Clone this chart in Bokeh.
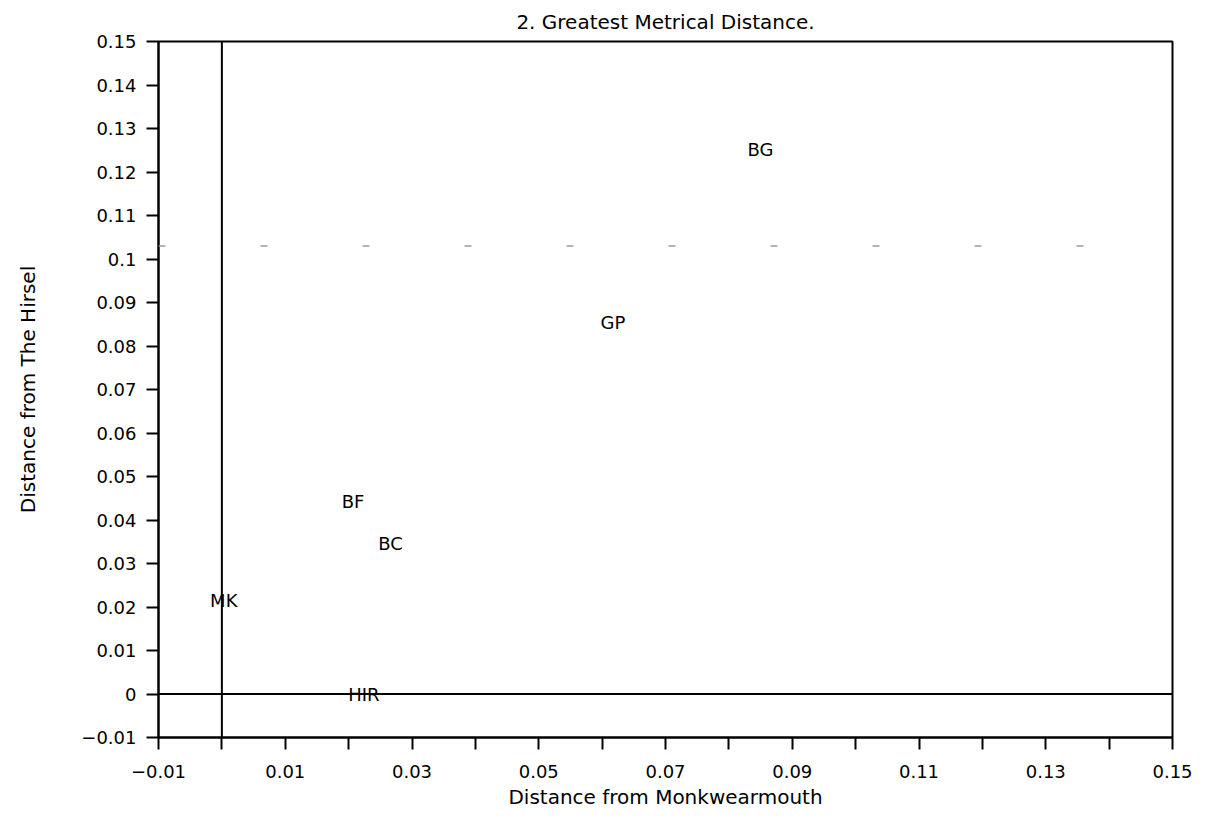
from bokeh.plotting import figure
from bokeh.models import Range1d, FixedTicker, Span, Title, ColumnDataSource
from bokeh.embed import file_html
from bokeh.resources import INLINE
from bokeh.core.properties import value

# ---- data ----
sites = ["BG", "GP", "BF", "BC", "MK", "HIR"]
dist_monkwearmouth = [0.085, 0.0617, 0.0207, 0.0266, 0.0003, 0.0224]
dist_hirsel = [0.1251, 0.0853, 0.0443, 0.0345, 0.0215, 0.0]

x_tick_values = [-0.01, 0.01, 0.03, 0.05, 0.07, 0.09, 0.11, 0.13, 0.15]
x_tick_labels = ["\u22120.01", "0.01", "0.03", "0.05", "0.07", "0.09", "0.11", "0.13", "0.15"]
x_minor_values = [0.0, 0.02, 0.04, 0.06, 0.08, 0.1, 0.12, 0.14]

y_tick_values = [-0.01, 0.0, 0.01, 0.02, 0.03, 0.04, 0.05, 0.06, 0.07, 0.08,
                 0.09, 0.1, 0.11, 0.12, 0.13, 0.14, 0.15]
y_tick_labels = ["\u22120.01", "0", "0.01", "0.02", "0.03", "0.04", "0.05", "0.06", "0.07", "0.08",
                 "0.09", "0.1", "0.11", "0.12", "0.13", "0.14", "0.15"]

origin_x = 0.0
origin_y = 0.0
faint_line_y = 0.103

FONT = "DejaVu Sans"

p = figure(width=1194, height=816,
           x_range=Range1d(-0.01, 0.15), y_range=Range1d(-0.01, 0.15),
           output_backend="svg", toolbar_location=None,
           min_border_left=158, min_border_right=22,
           min_border_top=40, min_border_bottom=79)

p.background_fill_color = "white"
p.border_fill_color = "white"
p.outline_line_color = "black"
p.outline_line_width = 2
p.xgrid.visible = False
p.ygrid.visible = False

# title
p.title.text = "2. Greatest Metrical Distance."
p.title.text_font = FONT
p.title.text_font_size = "20px"
p.title.text_font_style = "normal"
p.title.text_color = "black"
p.title.align = "center"
p.title.offset = -52
p.title.standoff = 15

# x axis
xa = p.xaxis[0]
xa.ticker = FixedTicker(ticks=x_tick_values, minor_ticks=x_minor_values)
xa.major_label_overrides = dict(zip(x_tick_values, x_tick_labels))
xa.major_label_text_font = FONT
xa.major_label_text_font_size = "18px"
xa.major_label_text_color = "black"
xa.major_label_standoff = 15
xa.major_tick_out = 12
xa.major_tick_in = 0
xa.minor_tick_out = 12
xa.minor_tick_in = 0
xa.axis_line_width = 2
xa.major_tick_line_width = 2
xa.minor_tick_line_width = 2
xa.axis_line_color = "black"
xa.major_tick_line_color = "black"
xa.minor_tick_line_color = "black"

xlab = Title(text="Distance from Monkwearmouth", align="center", offset=-55,
             text_font=FONT, text_font_size="20px", text_font_style="normal",
             text_color="black", standoff=4)
p.add_layout(xlab, "below")

# y axis
ya = p.yaxis[0]
ya.ticker = FixedTicker(ticks=y_tick_values)
ya.major_label_overrides = dict(zip(y_tick_values, y_tick_labels))
ya.major_label_text_font = FONT
ya.major_label_text_font_size = "18px"
ya.major_label_text_color = "black"
ya.major_label_standoff = 10
ya.major_tick_out = 12
ya.major_tick_in = 0
ya.minor_tick_out = 0
ya.minor_tick_in = 0
ya.axis_line_width = 2
ya.major_tick_line_width = 2
ya.axis_line_color = "black"
ya.major_tick_line_color = "black"
ya.axis_label = "Distance from The Hirsel"
ya.axis_label_text_font = FONT
ya.axis_label_text_font_size = "20px"
ya.axis_label_text_font_style = "normal"
ya.axis_label_text_color = "black"
ya.axis_label_standoff = 38

# reference lines
p.add_layout(Span(location=origin_x, dimension="height", line_color="black", line_width=2))
p.add_layout(Span(location=origin_y, dimension="width", line_color="black", line_width=2))
p.add_layout(Span(location=faint_line_y, dimension="width", line_color="#9a9a9a",
                  line_width=1.5, line_dash="7 95"))

# site labels
src = ColumnDataSource(dict(x=dist_monkwearmouth, y=dist_hirsel, name=sites))
p.text(x="x", y="y", text="name", source=src,
       text_font=value(FONT), text_font_size="18px", text_color="black",
       text_align="center", text_baseline="middle")

open("out.html", "w").write(file_html(p, INLINE))
